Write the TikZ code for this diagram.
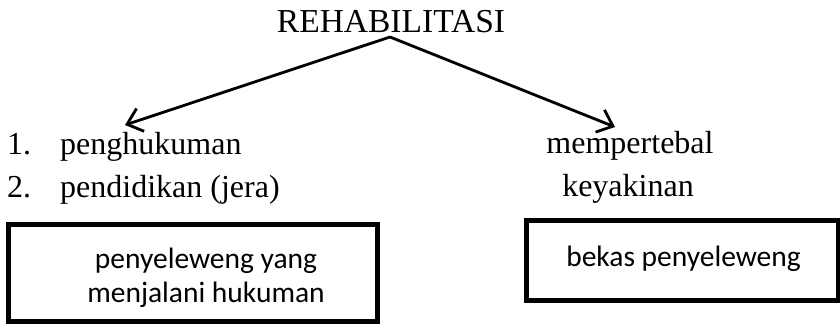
\documentclass[tikz,border=0pt]{standalone}
\usepackage{fontspec}
\setmainfont{Liberation Serif}
\newfontfamily\boxfont{Carlito}
\usetikzlibrary{arrows.meta}
\tikzset{
  serif/.style={font=\fontsize{32}{38}\selectfont, inner sep=0pt},
  boxtext/.style={font=\boxfont\fontsize{29.5}{34}\selectfont, inner sep=0pt},
  frame/.style={draw=black, line width=5pt, inner sep=0pt},
  arr/.style={line width=2.8pt, -{Straight Barb[length=14pt,width=24pt,line width=2.8pt]}}
}
\begin{document}
\begin{tikzpicture}[x=1pt,y=-1pt]
\useasboundingbox (0,0) rectangle (840,324);
% title
\node[serif, font=\fontsize{33.5}{38}\selectfont, anchor=base] (title) at (391,32) {REHABILITASI};
\coordinate (apex) at (390,37);
\coordinate (tipL) at (125,125);
\coordinate (tipR) at (615,127);
\draw[arr] (apex) -- (tipL);
\draw[arr] (apex) -- (tipR);
% left list
\node[serif, anchor=base west] (n1) at (7,154) {1.};
\node[serif, anchor=base west] (l1) at (60,154) {penghukuman};
\node[serif, anchor=base west] (n2) at (7,197) {2.};
\node[serif, anchor=base west] (l2) at (60,197) {pendidikan (jera)};
% right text
\node[serif, anchor=base] (r1) at (630,153) {mempertebal};
\node[serif, anchor=base] (r2) at (628,196) {keyakinan};
% boxes
\draw[frame] (8,224.5) rectangle (377.5,321);
\node[boxtext, anchor=base] (lb1) at (206,268) {penyeleweng yang};
\node[boxtext, anchor=base] (lb2) at (206,302) {menjalani hukuman};
\draw[frame] (526,220) rectangle (838.5,300.5);
\node[boxtext, anchor=base] (rb1) at (683.5,266) {bekas penyeleweng};
\end{tikzpicture}
\end{document}
